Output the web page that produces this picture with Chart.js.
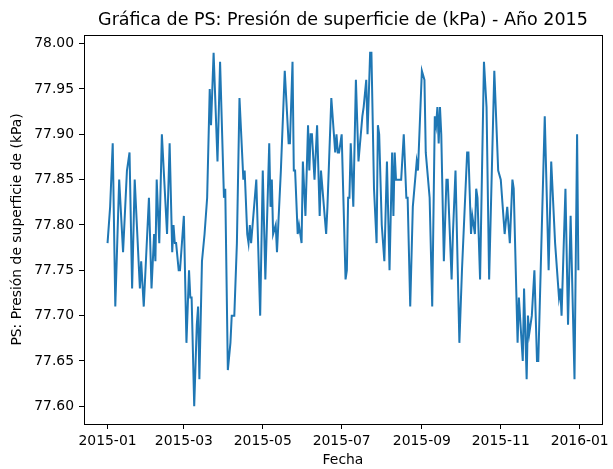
<!DOCTYPE html>
<html>
<head>
<meta charset="utf-8">
<script src="https://cdn.jsdelivr.net/npm/chart.js@4.4.1/dist/chart.umd.min.js"></script>
<style>
  html, body { margin: 0; padding: 0; background: #fff; }
  canvas { display: block; }
</style>
</head>
<body>
<canvas id="psChart" width="613" height="469"></canvas>
<script>
// día del año (0 = 2015-01-01) y presión
const dias = [
  0, 2, 4, 6, 9, 12, 15, 17, 19, 21, 25, 26, 28, 32, 34, 36, 37, 38, 40, 42,
  46, 48, 50, 51, 52, 53, 55, 56, 58, 59, 61, 63, 64, 65, 67, 69, 70, 71, 73, 75,
  77, 79, 80, 82, 85, 87, 90, 91, 93, 95, 96, 98, 100, 102, 105, 106, 108, 109, 110, 111,
  115, 118, 120, 122, 125, 126, 127, 128, 130, 131, 134, 137, 140, 141, 143, 144, 145, 147, 148, 150,
  151, 153, 155, 156, 157, 158, 160, 162, 164, 165, 169, 170, 173, 175, 176, 177, 178, 179, 181, 184,
  185, 186, 187, 188, 190, 192, 194, 197, 198, 200, 201, 203, 204, 206, 208, 209, 210, 212, 214, 216,
  218, 220, 221, 222, 223, 225, 227, 229, 231, 232, 234, 236, 239, 240, 243, 245, 246, 249, 251, 253,
  254, 255, 256, 257, 258, 260, 262, 263, 266, 267, 269, 272, 274, 278, 279, 281, 282, 284, 285, 286,
  288, 291, 293, 295, 299, 302, 304, 307, 309, 311, 313, 314, 317, 318, 321, 322, 324, 325, 326, 328,
  330, 332, 333, 338, 341, 343, 346, 349, 350, 351, 354, 356, 358, 361, 363, 364
];
const presion = [
  77.78, 77.82, 77.89, 77.71, 77.85, 77.77, 77.86, 77.88, 77.73, 77.85, 77.73, 77.76, 77.71, 77.83, 77.73, 77.79, 77.76, 77.85, 77.78, 77.90,
  77.79, 77.89, 77.77, 77.80, 77.78, 77.78, 77.75, 77.75, 77.79, 77.81, 77.67, 77.75, 77.72, 77.72, 77.60, 77.69, 77.71, 77.63, 77.76, 77.79,
  77.83, 77.95, 77.91, 77.99, 77.87, 77.98, 77.83, 77.84, 77.64, 77.67, 77.70, 77.70, 77.78, 77.94, 77.85, 77.86, 77.79, 77.78, 77.80, 77.78,
  77.85, 77.70, 77.86, 77.74, 77.89, 77.82, 77.85, 77.79, 77.80, 77.77, 77.86, 77.97, 77.89, 77.89, 77.98, 77.86, 77.86, 77.79, 77.80, 77.78,
  77.87, 77.81, 77.91, 77.86, 77.90, 77.90, 77.85, 77.91, 77.81, 77.86, 77.79, 77.82, 77.94, 77.90, 77.88, 77.90, 77.88, 77.88, 77.90, 77.74,
  77.75, 77.83, 77.83, 77.89, 77.82, 77.96, 77.87, 77.92, 77.93, 77.96, 77.90, 77.99, 77.99, 77.84, 77.78, 77.91, 77.90, 77.80, 77.76, 77.87,
  77.75, 77.88, 77.81, 77.88, 77.85, 77.85, 77.85, 77.90, 77.83, 77.83, 77.71, 77.82, 77.87, 77.86, 77.97, 77.96, 77.88, 77.83, 77.71, 77.92,
  77.91, 77.93, 77.89, 77.93, 77.90, 77.76, 77.85, 77.85, 77.74, 77.79, 77.86, 77.67, 77.75, 77.88, 77.88, 77.79, 77.81, 77.79, 77.84, 77.83,
  77.74, 77.98, 77.93, 77.74, 77.97, 77.86, 77.85, 77.79, 77.82, 77.78, 77.85, 77.84, 77.67, 77.72, 77.65, 77.73, 77.63, 77.70, 77.68, 77.70,
  77.75, 77.65, 77.65, 77.92, 77.75, 77.87, 77.78, 77.72, 77.73, 77.70, 77.84, 77.69, 77.81, 77.63, 77.90, 77.75
];

const xTickDias = [0, 59, 120, 181, 243, 304, 365];
const xTickLabels = ['2015-01', '2015-03', '2015-05', '2015-07', '2015-09', '2015-11', '2016-01'];
const yTicks = [77.60, 77.65, 77.70, 77.75, 77.80, 77.85, 77.90, 77.95, 78.00];

const FONT = "'DejaVu Sans', sans-serif";
const TITULO = 'Gráfica de PS: Presión de superficie de (kPa) - Año 2015';

// caja del eje + título centrado sobre el área de trazado (como matplotlib)
const boxPlugin = {
  id: 'box',
  afterDraw(chart) {
    const { ctx, chartArea: a } = chart;
    ctx.save();
    ctx.strokeStyle = '#000';
    ctx.lineWidth = 1;
    ctx.strokeRect(Math.round(a.left) + 0.5, Math.round(a.top) + 0.5, Math.round(a.right - a.left), Math.round(a.bottom - a.top));
    ctx.fillStyle = '#000';
    ctx.font = `17.5px ${FONT}`;
    ctx.textAlign = 'center';
    ctx.textBaseline = 'alphabetic';
    ctx.fillText(TITULO, (a.left + a.right) / 2, 25);
    ctx.restore();
  }
};

new Chart(document.getElementById('psChart'), {
  type: 'line',
  data: {
    datasets: [{
      data: dias.map((d, i) => ({ x: d, y: presion[i] })),
      borderColor: '#1f77b4',
      borderWidth: 2,
      pointRadius: 0,
      tension: 0,
      fill: false
    }]
  },
  options: {
    responsive: false,
    animation: false,
    devicePixelRatio: 1,
    layout: { padding: { left: 0, right: 7, top: 35, bottom: 0 } },
    plugins: {
      legend: { display: false },
      tooltip: { enabled: false },
      title: { display: false }
    },
    scales: {
      x: {
        type: 'linear',
        min: -18.2, max: 382.2,
        afterFit: (s) => { s.height = 45; },
        afterBuildTicks: (s) => { s.ticks = xTickDias.map(v => ({ value: v })); },
        grid: { drawOnChartArea: false, drawTicks: true, tickLength: 5, color: '#000' },
        border: { display: false },
        ticks: {
          autoSkip: false, maxRotation: 0, padding: 4, color: '#000',
          font: { family: FONT, size: 13.9 },
          callback: (v) => xTickLabels[xTickDias.indexOf(v)] ?? ''
        },
        title: { display: true, text: 'Fecha', color: '#000', font: { family: FONT, size: 13.9 }, padding: { top: 0, bottom: 0 } }
      },
      y: {
        min: 77.5805, max: 78.0095,
        afterFit: (s) => { s.width = 84; },
        afterBuildTicks: (s) => { s.ticks = yTicks.map(v => ({ value: v })); },
        grid: { drawOnChartArea: false, drawTicks: true, tickLength: 5, color: '#000' },
        border: { display: false },
        ticks: {
          padding: 5, color: '#000',
          font: { family: FONT, size: 13.9 },
          callback: (v) => v.toFixed(2)
        },
        title: { display: true, text: 'PS: Presión de superficie de (kPa)', color: '#000', font: { family: FONT, size: 13.9 }, padding: { top: 9, bottom: 0 } }
      }
    }
  },
  plugins: [boxPlugin]
});
</script>
</body>
</html>
